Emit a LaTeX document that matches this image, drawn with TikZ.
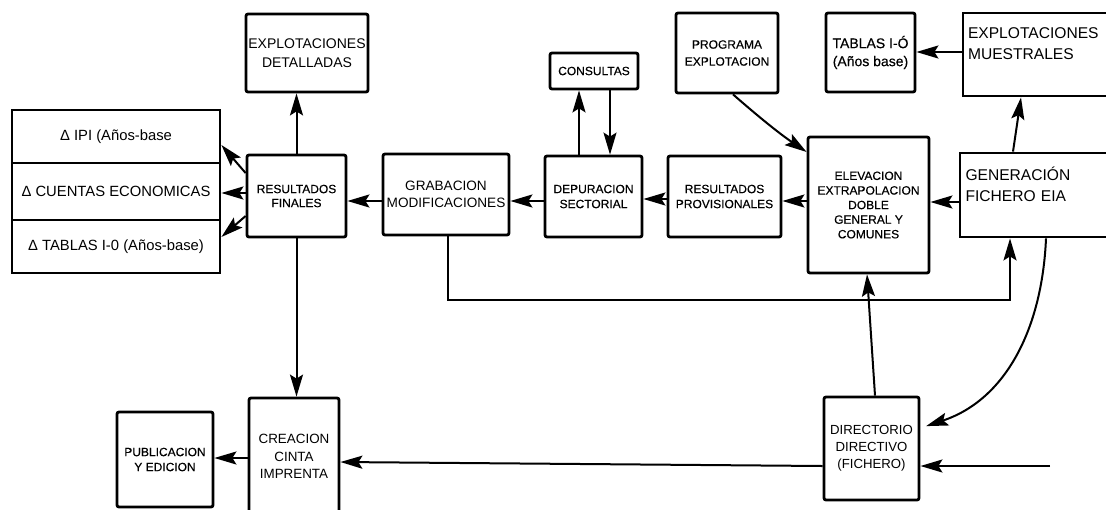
\documentclass[tikz,border=0pt]{standalone}
\usepackage{fontspec}
\setmainfont{Liberation Sans}
\newfontfamily\labfont[FakeBold=0.35]{Liberation Sans}
\usetikzlibrary{arrows.meta}
\begin{document}
\begin{tikzpicture}[x=0.5pt,y=-0.5pt,
  box/.style={draw, line width=1.4pt, rounded corners=1pt, inner sep=0pt, align=center},
  arr/.style={line width=1pt, -{Stealth[length=11pt,width=6.5pt,inset=2pt]}},
  fs/.style 2 args={font=\fontsize{#1}{#2}\selectfont},
  fb/.style 2 args={font=\labfont\fontsize{#1}{#2}\selectfont},
]
\clip (0,0) rectangle (1106,509);
\fill[white] (0,0) rectangle (1106,509);

% left stack
\node[box, rounded corners=0pt, minimum width=104pt, minimum height=26.5pt, fs={7.4}{9}] (ipi) at (116,136.5) {Δ IPI (Años-base};
\node[box, rounded corners=0pt, minimum width=104pt, minimum height=28.5pt, fs={7.4}{9}] (cue) at (116,191.5) {Δ CUENTAS ECONOMICAS};
\node[box, rounded corners=0pt, minimum width=104pt, minimum height=26.5pt, fs={7.4}{9}] (tab) at (116,246.5) {Δ TABLAS I-0 (Años-base)};

\node[box, minimum width=49.5pt, minimum height=41pt, fb={6}{7}] (rf) at (296.5,196) {RESULTADOS\\FINALES};
\node[box, minimum width=61pt, minimum height=39pt, fs={7}{9.5}] (expd) at (307,53) {EXPLOTACIONES\\DETALLADAS};
\node[box, minimum width=63pt, minimum height=40.5pt, fs={6.8}{8.5}] (grab) at (446,194.5) {GRABACION\\MODIFICACIONES};
\node[box, minimum width=48.5pt, minimum height=40.5pt, fb={6}{7.5}] (dep) at (593.5,196.5) {DEPURACION\\SECTORIAL};
\node[box, minimum width=56.5pt, minimum height=40.5pt, fb={6}{7.5}] (rprov) at (724.5,196.5) {RESULTADOS\\PROVISIONALES};
\node[box, minimum width=60.5pt, minimum height=68pt, fb={6}{7.3}] (elev) at (868.5,205) {ELEVACION\\EXTRAPOLACION\\DOBLE\\GENERAL Y\\COMUNES};
\node[box, rounded corners=0pt, minimum width=77.5pt, minimum height=42pt, text width=72pt, align=left, fs={7.8}{10.5}] (gen) at (1037.5,195) {GENERACIÓN\\FICHERO EIA\\\mbox{}};
\node[box, rounded corners=0pt, minimum width=76pt, minimum height=41.5pt, text width=71pt, align=left, fs={7.8}{10.5}] (expm) at (1039,54.5) {EXPLOTACIONES\\MUESTRALES\\\mbox{}};
\node[box, minimum width=44.5pt, minimum height=39.5pt, fb={7}{9}] (tabio) at (870.5,52.5) {TABLAS I-Ó\\(Años base)};
\node[box, minimum width=44pt, minimum height=18pt, fb={6}{7.5}] (cons) at (594,71) {CONSULTAS};
\node[box, minimum width=51pt, minimum height=40pt, fb={6}{8.5}] (prog) at (727,53) {PROGRAMA\\EXPLOTACION};
\node[box, minimum width=48pt, minimum height=47.5pt, fb={6}{7.5}] (pub) at (165,459.5) {PUBLICACION\\Y EDICION};
\node[box, minimum width=45pt, minimum height=58.5pt, fs={6.7}{8.7}] (crea) at (294,456.5) {CREACION\\CINTA\\IMPRENTA};
\node[box, minimum width=47.5pt, minimum height=51.5pt, fs={6.6}{8.5}] (dir) at (871.5,448.5) {DIRECTORIO\\DIRECTIVO\\(FICHERO)};

% connectors
\draw[arr] (rf.north) -- (rf.north |- expd.south);
\draw[arr] (rf.south) -- (rf.south |- crea.north);
\draw[arr] (grab.west |- 0,201) -- (rf.east |- 0,201);
\draw[arr] (dep.west |- 0,201) -- (grab.east |- 0,201);
\draw[arr] (rprov.west |- 0,199) -- (dep.east |- 0,199);
\draw[arr] (elev.west |- 0,201) -- (rprov.east |- 0,201);
\draw[arr] (gen.west |- 0,202) -- (elev.east |- 0,202);
\draw[arr] (rf.west |- 0,173) -- (ipi.east |- 0,145);
\draw[arr] (rf.west |- 0,193) -- (cue.east |- 0,193);
\draw[arr] (rf.west |- 0,216) -- (tab.east |- 0,237);
\draw[arr] (dep.north -| 579,0) -- (cons.south -| 579,0);
\draw[arr] (cons.south -| 610,0) -- (dep.north -| 610,0);
\draw[arr] (prog.south -| 733,0) .. controls (760,118) and (780,134) .. (elev.west |- 0,152);
\draw[arr] (gen.north -| 1013,0) -- (expm.south -| 1021,0);
\draw[arr] (expm.west |- 0,52) -- (tabio.east |- 0,52);
\draw[arr] (grab.south -| 448,0) -- (448,300) -- (1010,300) -- (gen.south -| 1010,0);
\draw[arr] (dir.north -| 875,0) -- (elev.south -| 867,0);
\draw[arr, shorten >=3pt] (gen.south -| 1046,0) .. controls (1042,330) and (1005,400) .. (dir.east |- 0,428);
\coordinate (inR) at (1050,466);
\draw[arr] (inR) -- (dir.east |- inR);
\draw[arr] (dir.west |- 0,466) -- (crea.east |- 0,462);
\draw[arr] (crea.west |- 0,458) -- (pub.east |- 0,458);
\end{tikzpicture}
\end{document}
